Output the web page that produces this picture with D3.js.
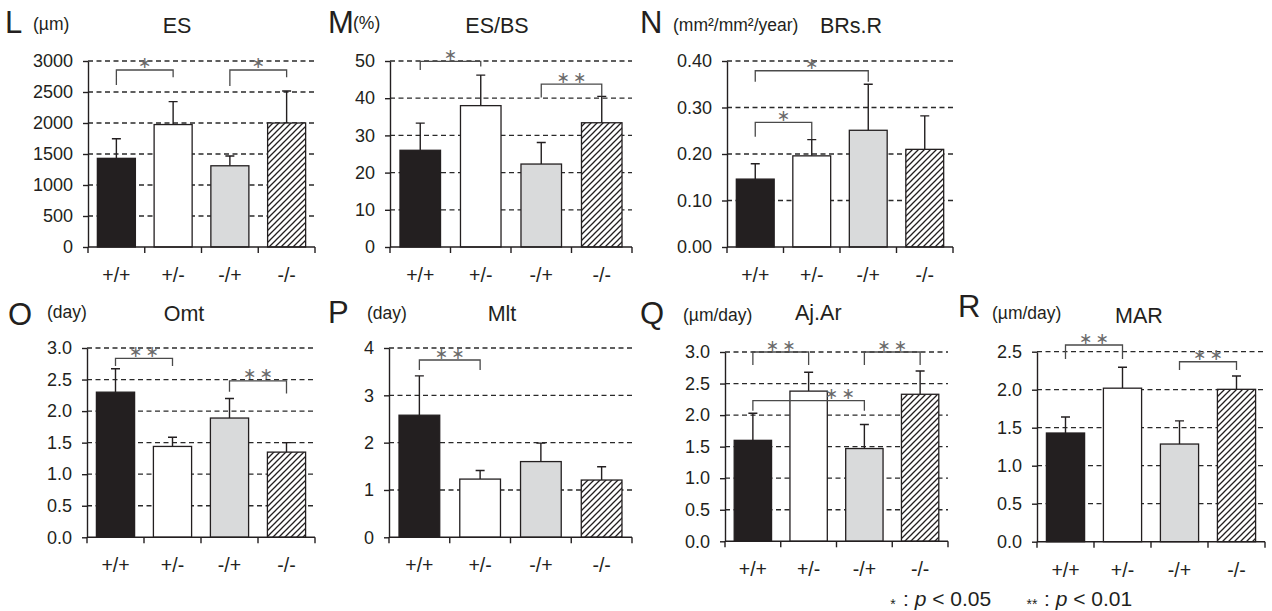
<!DOCTYPE html>
<html>
<head>
<meta charset="utf-8">
<script src="https://cdn.jsdelivr.net/npm/d3@7"></script>
<style>
    body { margin: 0; background: #fff; }
    svg text { font-family: "Liberation Sans", Arial, Helvetica, sans-serif; fill: #231f20; }
</style>
</head>
<body>
<svg id="chart" width="1272" height="611"></svg>
<script>
// genotype groups, shared by all panels
const genotypes = ["+/+", "+/-", "-/+", "-/-"];

// L: ES (µm)
const esMean = [1430, 1975, 1310, 2000];
const esSd = [315, 370, 158, 515];
const esTicks = [0, 500, 1000, 1500, 2000, 2500, 3000];
const esSig = [[0, 1, 2855, 2613, 2737, "*"], [2, 3, 2855, 2597, 2737, "*"]];

// M: ES/BS (%)
const esbsMean = [26.0, 38.0, 22.3, 33.4];
const esbsSd = [7.3, 8.2, 5.8, 7.1];
const esbsTicks = [0, 10, 20, 30, 40, 50];
const esbsSig = [[0, 1, 49.9, 47.6, 48.5, "*"], [2, 3, 43.8, 40.2, 40.5, "**"]];

// N: BRs.R (mm²/mm²/year)
const brsrMean = [0.146, 0.196, 0.251, 0.210];
const brsrSd = [0.033, 0.035, 0.099, 0.072];
const brsrTicks = [0, 0.1, 0.2, 0.3, 0.4];
const brsrSig = [[0, 2, 0.379, 0.3555, 0.3555, "*"], [0, 1, 0.268, 0.237, 0.232, "*"]];

// O: Omt (day)
const omtMean = [2.30, 1.44, 1.89, 1.35];
const omtSd = [0.37, 0.145, 0.31, 0.15];
const omtTicks = [0, 0.5, 1, 1.5, 2, 2.5, 3];
const omtSig = [[0, 1, 2.836, 2.715, 2.715, "**"], [2, 3, 2.48, 2.307, 2.28, "**"]];

// P: Mlt (day)
const mltMean = [2.58, 1.23, 1.60, 1.21];
const mltSd = [0.83, 0.18, 0.39, 0.28];
const mltTicks = [0, 1, 2, 3, 4];
const mltSig = [[0, 1, 3.746, 3.535, 3.535, "**"]];

// Q: Aj.Ar (µm/day)
const ajarMean = [1.60, 2.38, 1.47, 2.33];
const ajarSd = [0.43, 0.30, 0.38, 0.37];
const ajarTicks = [0, 0.5, 1, 1.5, 2, 2.5, 3];
const ajarSig = [[0, 1, 3.0, 2.794, 2.794, "**"], [2, 3, 3.0, 2.794, 2.794, "**"], [0, 2, 2.228, 2.07, 2.07, "**", 0.78]];

// R: MAR (µm/day)
const marMean = [1.43, 2.02, 1.285, 2.005];
const marSd = [0.21, 0.275, 0.305, 0.175];
const marTicks = [0, 0.5, 1, 1.5, 2, 2.5];
const marSig = [[0, 1, 2.588, 2.404, 2.404, "**"], [2, 3, 2.368, 2.259, 2.259, "**"]];

const fills = ["#231f20", "#ffffff", "#d9dadb", "url(#hatch)"];

const svg = d3.select("#chart");

// diagonal hatch for the -/- bars
const pat = svg.append("defs").append("pattern")
    .attr("id", "hatch")
    .attr("patternUnits", "userSpaceOnUse")
    .attr("width", 6).attr("height", 6);
pat.append("rect").attr("width", 6).attr("height", 6).attr("fill", "#fff");
pat.append("path")
    .attr("d", "M-1,1 l2,-2 M0,6 l6,-6 M5,7 l2,-2")
    .attr("stroke", "#231f20").attr("stroke-width", 1.3);

const panels = [
    {letter: "L", unit: "(µm)", title: "ES", mean: esMean, sd: esSd, ticks: esTicks, sig: esSig, fmt: "d",
     x0: 88, x1: 315, yb: 247, yt: 61,
     lx: 5, ly: 33, ux: 33, uy: 29.5, tx: 177, ty: 33, anchor: "middle"},
    {letter: "M", unit: "(%)", title: "ES/BS", mean: esbsMean, sd: esbsSd, ticks: esbsTicks, sig: esbsSig, fmt: "d",
     x0: 390, x1: 632, yb: 247, yt: 61,
     lx: 328, ly: 33, ux: 353, uy: 29, tx: 497, ty: 33, anchor: "middle"},
    {letter: "N", unit: "(mm²/mm²/year)", title: "BRs.R", mean: brsrMean, sd: brsrSd, ticks: brsrTicks, sig: brsrSig, fmt: ".2f",
     x0: 727, x1: 953, yb: 247, yt: 61,
     lx: 640, ly: 33, ux: 673, uy: 31, tx: 820, ty: 33, anchor: "start"},
    {letter: "O", unit: "(day)", title: "Omt", mean: omtMean, sd: omtSd, ticks: omtTicks, sig: omtSig, fmt: ".1f",
     x0: 87, x1: 315, yb: 537.3, yt: 348,
     lx: 8, ly: 324.5, ux: 47, uy: 318, tx: 184, ty: 321, anchor: "middle"},
    {letter: "P", unit: "(day)", title: "Mlt", mean: mltMean, sd: mltSd, ticks: mltTicks, sig: mltSig, fmt: "d",
     x0: 389, x1: 632, yb: 537.3, yt: 348,
     lx: 328, ly: 323, ux: 367, uy: 319, tx: 502, ty: 321, anchor: "middle"},
    {letter: "Q", unit: "(µm/day)", title: "Aj.Ar", mean: ajarMean, sd: ajarSd, ticks: ajarTicks, sig: ajarSig, fmt: ".1f",
     x0: 725, x1: 948, yb: 541.3, yt: 352,
     lx: 640, ly: 324, ux: 683, uy: 321, tx: 795, ty: 320, anchor: "start"},
    {letter: "R", unit: "(µm/day)", title: "MAR", mean: marMean, sd: marSd, ticks: marTicks, sig: marSig, fmt: ".1f",
     x0: 1037, x1: 1265, yb: 541.7, yt: 351.7,
     lx: 958, ly: 317, ux: 992, uy: 319, tx: 1115, ty: 323, anchor: "start"}
];

function drawPanel(p) {
    const g = svg.append("g");
    const x = d3.scaleBand().domain(genotypes).range([p.x0, p.x1]);
    const y = d3.scaleLinear().domain([0, d3.max(p.ticks)]).range([p.yb, p.yt]);
    const bw = x.bandwidth() * 0.67;
    const cx = (i) => x(genotypes[i]) + x.bandwidth() / 2;
    const rows = genotypes.map((d, i) => ({g: d, m: p.mean[i], s: p.sd[i], i: i}));

    // headings
    g.append("text").attr("x", p.lx).attr("y", p.ly).attr("font-size", 31).text(p.letter);
    g.append("text").attr("x", p.ux).attr("y", p.uy).attr("font-size", 17.5).text(p.unit);
    g.append("text").attr("x", p.tx).attr("y", p.ty).attr("font-size", 21.5)
        .attr("text-anchor", p.anchor).text(p.title);

    // dashed grid
    g.selectAll(".grid").data(p.ticks.filter(t => t > 0)).join("line")
        .attr("class", "grid")
        .attr("x1", p.x0).attr("x2", p.x1)
        .attr("y1", d => y(d)).attr("y2", d => y(d))
        .attr("stroke", "#2a2a2a").attr("stroke-width", 1.3)
        .attr("stroke-dasharray", "5,3.5");

    // error bars
    g.selectAll(".err").data(rows).join("path")
        .attr("class", "err")
        .attr("d", d => `M${cx(d.i)},${y(d.m)}V${y(d.m + d.s)}M${cx(d.i) - 4.5},${y(d.m + d.s)}H${cx(d.i) + 4.5}`)
        .attr("stroke", "#231f20").attr("stroke-width", 1.4).attr("fill", "none");

    // bars
    g.selectAll(".bar").data(rows).join("rect")
        .attr("class", "bar")
        .attr("x", d => cx(d.i) - bw / 2)
        .attr("width", bw)
        .attr("y", d => y(d.m))
        .attr("height", d => y(0) - y(d.m))
        .attr("fill", d => fills[d.i])
        .attr("stroke", "#231f20").attr("stroke-width", 1.3);

    // y axis
    const ya = g.append("g")
        .attr("transform", `translate(${p.x0},0)`)
        .call(d3.axisLeft(y).tickValues(p.ticks).tickFormat(d3.format(p.fmt)).tickSize(5).tickPadding(10).tickSizeOuter(0));
    ya.attr("font-family", null).attr("font-size", null);
    ya.selectAll("text").style("font-size", "18px");
    ya.selectAll("line, path").attr("stroke", "#231f20").attr("stroke-width", 1.4);

    // x axis with ticks at the group boundaries
    const bounds = genotypes.map(d => x(d)).concat([p.x1]);
    g.append("line").attr("x1", p.x0).attr("x2", p.x1).attr("y1", y(0)).attr("y2", y(0))
        .attr("stroke", "#231f20").attr("stroke-width", 1.4);
    g.selectAll(".xt").data(bounds).join("line")
        .attr("class", "xt")
        .attr("x1", d => d).attr("x2", d => d)
        .attr("y1", y(0)).attr("y2", y(0) + 6)
        .attr("stroke", "#231f20").attr("stroke-width", 1.4);
    g.selectAll(".xl").data(genotypes).join("text")
        .attr("class", "xl")
        .attr("x", (d, i) => cx(i)).attr("y", y(0) + 35)
        .attr("text-anchor", "middle").style("font-size", "19.5px")
        .text(d => d);

    // significance brackets
    const sig = p.sig.map(s => ({a: s[0], b: s[1], top: s[2], l: s[3], r: s[4], mark: s[5], at: s[6] === undefined ? 0.5 : s[6]}));
    g.selectAll(".br").data(sig).join("path")
        .attr("class", "br")
        .attr("d", s => `M${cx(s.a)},${y(s.l)}V${y(s.top)}H${cx(s.b)}V${y(s.r)}`)
        .attr("fill", "none").attr("stroke", "#4a4a4a").attr("stroke-width", 1.3);
    g.selectAll(".st").data(sig).join("text")
        .attr("class", "st")
        .attr("x", s => cx(s.a) + (cx(s.b) - cx(s.a)) * s.at)
        .attr("y", s => y(s.top) - 7)
        .attr("text-anchor", "middle").attr("dominant-baseline", "central")
        .style("font-family", "'DejaVu Sans', sans-serif")
        .style("fill", "#6a6a6a")
        .style("font-size", "16px")
        .text(s => s.mark.split("").map(() => "\u2217").join("\u2009"));
}

panels.forEach(drawPanel);

// legend for significance marks
const leg = svg.append("g").style("font-size", "21px");
leg.append("text").attr("x", 893).attr("y", 606).attr("text-anchor", "middle")
    .style("font-size", "14px").attr("dy", 3).text("*");
const l1 = leg.append("text").attr("x", 903).attr("y", 606);
l1.append("tspan").text(": ");
l1.append("tspan").attr("font-style", "italic").text("p");
l1.append("tspan").text(" < 0.05");
leg.append("text").attr("x", 1032).attr("y", 606).attr("text-anchor", "middle")
    .style("font-size", "14px").attr("dy", 3).text("**");
const l2 = leg.append("text").attr("x", 1044).attr("y", 606);
l2.append("tspan").text(": ");
l2.append("tspan").attr("font-style", "italic").text("p");
l2.append("tspan").text(" < 0.01");
</script>
</body>
</html>
